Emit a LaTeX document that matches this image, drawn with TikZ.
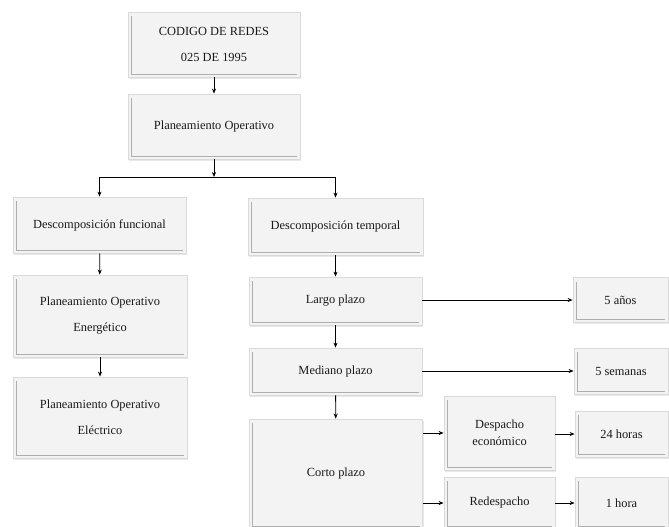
\documentclass[tikz,border=0pt]{standalone}
\usepackage{fontspec}
\setmainfont{Liberation Serif}
\usetikzlibrary{arrows.meta,shadows,calc}
\definecolor{boxfill}{HTML}{F3F3F3}
\definecolor{boxline}{HTML}{DADADA}
\definecolor{bevel}{HTML}{AEAEAE}
\tikzset{
  box/.style={rectangle, fill=boxfill, draw=boxline, line width=0.8pt,
    drop shadow={shadow xshift=1pt, shadow yshift=-1.5pt, opacity=0.18},
    inner sep=2pt, align=center, text=black!90,
    font=\fontsize{12.4}{26}\selectfont,
    path picture={\draw[bevel, line width=1pt]
      ([xshift=3pt,yshift=-4pt]path picture bounding box.north west) --
      ([xshift=3pt,yshift=3pt]path picture bounding box.south west) --
      ([xshift=-3pt,yshift=3pt]path picture bounding box.south east);}},
  arr/.style={line width=0.8pt, -{Stealth[length=5pt,width=4pt]}},
  ln/.style={line width=0.8pt}
}
\begin{document}
\begin{tikzpicture}[x=1pt,y=-1pt]
\useasboundingbox (0,0) rectangle (669,527);
\clip (0,0) rectangle (669,527);
\fill[white] (0,0) rectangle (669,527);
% left/top column
\node[box, minimum width=172pt, minimum height=65pt] (codigo) at (214,44.5) {CODIGO DE REDES\\025 DE 1995};
\node[box, minimum width=172pt, minimum height=65pt] (plan) at (214,126.5) {Planeamiento Operativo};
\node[box, minimum width=173pt, minimum height=56pt] (func) at (99.5,225) {Descomposición funcional};
\node[box, minimum width=174pt, minimum height=82pt] (energ) at (100,316) {Planeamiento Operativo\\Energético};
\node[box, minimum width=174pt, minimum height=81pt] (elec) at (100,417.5) {Planeamiento Operativo\\Eléctrico};
% right column
\node[box, minimum width=175pt, minimum height=57pt] (temp) at (335.5,226.5) {Descomposición temporal};
\node[box, minimum width=173pt, minimum height=48pt] (largo) at (335.5,301) {Largo plazo};
\node[box, minimum width=173pt, minimum height=47pt] (mediano) at (335.5,371.5) {Mediano plazo};
\node[box, minimum width=173pt, minimum height=110pt] (corto) at (336,474) {Corto plazo};
\node[box, minimum width=95pt, minimum height=45pt] (anos) at (620.5,300) {5 años};
\node[box, minimum width=94pt, minimum height=46pt] (semanas) at (621,371) {5 semanas};
\node[box, minimum width=111pt, minimum height=74pt, font=\fontsize{12.4}{17.5}\selectfont] (desp) at (499.5,433) {Despacho\\económico};
\node[box, minimum width=111pt, minimum height=52pt] (redesp) at (499.5,503) {Redespacho};
\node[box, minimum width=93pt, minimum height=46pt] (h24) at (621.5,434) {24 horas};
\node[box, minimum width=93pt, minimum height=52pt] (h1) at (621.5,503) {1 hora};
% connectors
\draw[arr] (codigo) -- (plan);
\coordinate (j) at (214,177);
\coordinate (jl) at (func.north |- j);
\coordinate (jr) at (temp.north |- j);
\draw[arr] (plan) -- (j);
\draw[ln] (jl) -- (jr);
\draw[arr] (jl) -- (func);
\draw[arr] (jr) -- (temp);
\draw[arr] (func) -- (energ);
\draw[arr] (energ) -- (elec);
\draw[arr] (temp) -- (largo);
\draw[arr] (largo) -- (mediano);
\draw[arr] (mediano) -- (corto);
\draw[arr] (largo.east |- anos.west) -- (anos.west);
\draw[arr] (mediano.east |- semanas.west) -- (semanas.west);
\draw[arr] (corto.east |- desp.west) -- (desp.west);
\draw[arr] (corto.east |- redesp.west) -- (redesp.west);
\draw[arr] (desp.east |- h24.west) -- (h24.west);
\draw[arr] (redesp.east |- h1.west) -- (h1.west);
\end{tikzpicture}
\end{document}
